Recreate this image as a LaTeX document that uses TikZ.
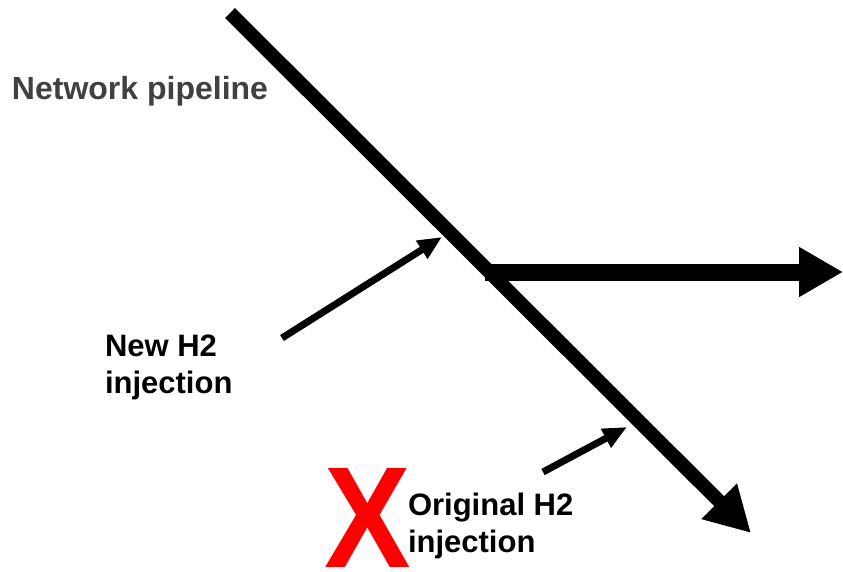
\documentclass[tikz,border=0pt]{standalone}
\usepackage{fontspec}
\setmainfont{Liberation Sans}
\usetikzlibrary{arrows.meta}
\definecolor{labelgrey}{HTML}{404040}
\definecolor{xred}{HTML}{FF0000}
\tikzset{
  pipe/.style={line width=14pt, -{Triangle[length=45pt,width=47pt]}},
  branch/.style={line width=17pt, -{Triangle[length=44pt,width=47pt]}},
  inject/.style={line width=7pt, -{Triangle[length=24pt,width=20pt]}},
  lbl/.style={inner sep=0pt, outer sep=0pt, font=\fontsize{31}{36.5}\selectfont\bfseries, align=left},
}
\begin{document}
\begin{tikzpicture}[x=1pt,y=-1pt]
\useasboundingbox (0,0) rectangle (843,571);
% main pipeline
\coordinate (ptop) at (230,13);
\coordinate (pend) at (751,533);
\draw[pipe] (ptop) -- (pend);
% branch
\coordinate (bstart) at (485,272);
\coordinate (bend) at (843,272);
\draw[branch] (bstart) -- (bend);
% injections
\coordinate (n1) at (282,338);
\coordinate (n2) at (442,237);
\draw[inject] (n1) -- (n2);
\coordinate (o1) at (543,472);
\coordinate (o2) at (627,427);
\draw[inject] (o1) -- (o2);
% labels
\node[lbl, text=labelgrey, font=\fontsize{32}{36}\selectfont\bfseries, anchor=base west] (net) at (12,99) {Network pipeline};
\node[lbl, anchor=base west] (newh) at (105,393) {New H2\\injection};
\node[lbl, anchor=base west] (orig) at (408,552) {Original H2\\injection};
\node[inner sep=0pt, text=xred, font=\fontsize{144}{144}\selectfont\bfseries, xscale=0.9, anchor=base] (xmark) at (367.5,567) {X};
\end{tikzpicture}
\end{document}
